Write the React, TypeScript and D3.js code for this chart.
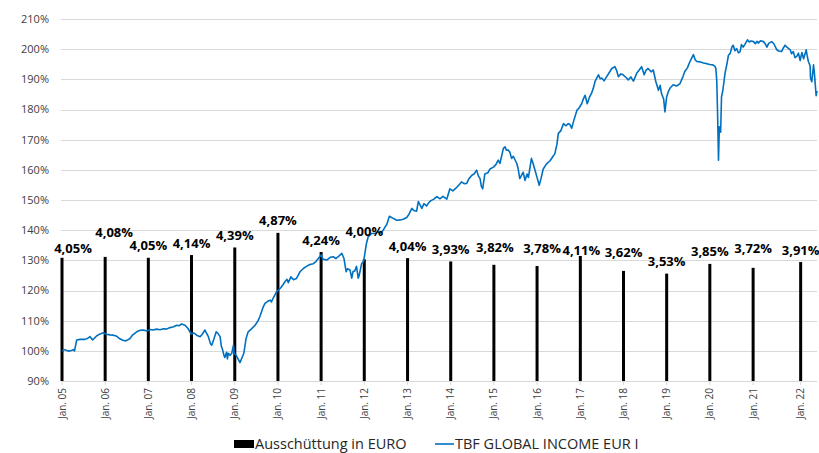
import { useEffect, useRef } from "react";
import * as d3 from "d3";

// Ausschüttungen (Rendite in %) je Stichtag
const payoutDates = [
  "2005-01-01", "2006-01-01", "2007-01-01", "2008-01-01", "2009-01-01", "2010-01-01",
  "2011-01-01", "2012-01-01", "2013-01-01", "2014-01-01", "2015-01-01", "2016-01-01",
  "2017-01-01", "2018-01-01", "2019-01-01", "2020-01-01", "2021-01-01", "2022-02-07",
];
const payoutPct = [
  4.05, 4.08, 4.05, 4.14, 4.39, 4.87, 4.24, 4.0, 4.04, 3.93, 3.82, 3.78, 4.11, 3.62, 3.53, 3.85, 3.72, 3.91,
];
const tickLabels = [
  "Jan. 05", "Jan. 06", "Jan. 07", "Jan. 08", "Jan. 09", "Jan. 10", "Jan. 11", "Jan. 12", "Jan. 13",
  "Jan. 14", "Jan. 15", "Jan. 16", "Jan. 17", "Jan. 18", "Jan. 19", "Jan. 20", "Jan. 21", "Jan. 22",
];

// Wertentwicklung TBF GLOBAL INCOME EUR I (indexiert, %), Zeit als Dezimaljahr
const navTimes = [
  2005.00, 2005.07, 2005.14, 2005.22, 2005.26, 2005.29, 2005.34, 2005.42, 2005.53, 2005.60, 2005.65, 2005.71, 2005.80, 2005.88, 2005.96,
  2006.03, 2006.11, 2006.19, 2006.27, 2006.34, 2006.41, 2006.48, 2006.57, 2006.64, 2006.73, 2006.81, 2006.88, 2006.97,
  2007.04, 2007.11, 2007.19, 2007.27, 2007.35, 2007.42, 2007.50, 2007.57, 2007.66, 2007.71, 2007.77, 2007.85, 2007.92, 2007.99,
  2008.06, 2008.12, 2008.20, 2008.25, 2008.31, 2008.39, 2008.44, 2008.47, 2008.52, 2008.57, 2008.61, 2008.66, 2008.69, 2008.72, 2008.75, 2008.77, 2008.81, 2008.83, 2008.85, 2008.89, 2008.93, 2008.97, 2008.99,
  2009.03, 2009.07, 2009.12, 2009.17, 2009.21, 2009.26, 2009.31, 2009.38, 2009.47, 2009.54, 2009.58, 2009.66, 2009.70, 2009.77, 2009.82, 2009.85, 2009.89, 2009.97,
  2010.01, 2010.07, 2010.12, 2010.16, 2010.21, 2010.24, 2010.30, 2010.36, 2010.43, 2010.51, 2010.59, 2010.65, 2010.74, 2010.82, 2010.88, 2010.93,
  2011.00, 2011.04, 2011.13, 2011.21, 2011.28, 2011.34, 2011.41, 2011.48, 2011.53, 2011.58, 2011.61, 2011.67, 2011.71, 2011.74, 2011.78, 2011.82, 2011.86, 2011.88, 2011.94, 2011.97, 2011.99,
  2012.05, 2012.09, 2012.17, 2012.25, 2012.32, 2012.36, 2012.43, 2012.48, 2012.52, 2012.58, 2012.62, 2012.67, 2012.75, 2012.83, 2012.90, 2012.98,
  2013.03, 2013.10, 2013.15, 2013.21, 2013.25, 2013.33, 2013.38, 2013.44, 2013.48, 2013.54, 2013.60, 2013.68, 2013.75, 2013.82, 2013.91, 2013.98,
  2014.05, 2014.14, 2014.19, 2014.25, 2014.31, 2014.37, 2014.42, 2014.49, 2014.54, 2014.60, 2014.64, 2014.68, 2014.71, 2014.74, 2014.79, 2014.86, 2014.91, 2014.99,
  2015.05, 2015.10, 2015.14, 2015.22, 2015.26, 2015.29, 2015.33, 2015.37, 2015.41, 2015.45, 2015.53, 2015.56, 2015.60, 2015.64, 2015.68, 2015.72, 2015.77, 2015.80, 2015.87, 2015.91, 2015.95, 2015.99,
  2016.05, 2016.09, 2016.14, 2016.21, 2016.30, 2016.37, 2016.41, 2016.46, 2016.49, 2016.55, 2016.61, 2016.67, 2016.72, 2016.76, 2016.80, 2016.85, 2016.92, 2016.97,
  2017.03, 2017.07, 2017.11, 2017.16, 2017.21, 2017.26, 2017.31, 2017.34, 2017.42, 2017.46, 2017.50, 2017.55, 2017.61, 2017.66, 2017.73, 2017.80, 2017.84, 2017.88, 2017.94, 2017.99,
  2018.06, 2018.11, 2018.17, 2018.23, 2018.31, 2018.36, 2018.42, 2018.48, 2018.52, 2018.57, 2018.64, 2018.69, 2018.75, 2018.81, 2018.85, 2018.88, 2018.93, 2018.96,
  2019.00, 2019.04, 2019.08, 2019.15, 2019.23, 2019.31, 2019.38, 2019.42, 2019.48, 2019.54, 2019.62, 2019.66, 2019.70, 2019.77, 2019.85, 2019.93,
  2020.00, 2020.07, 2020.12, 2020.14, 2020.16, 2020.18, 2020.20, 2020.22, 2020.25, 2020.27, 2020.30, 2020.35, 2020.40, 2020.43, 2020.47, 2020.51, 2020.54, 2020.58, 2020.62, 2020.66, 2020.70, 2020.73, 2020.77, 2020.81, 2020.87, 2020.91, 2020.95,
  2021.01, 2021.05, 2021.09, 2021.12, 2021.17, 2021.24, 2021.28, 2021.32, 2021.36, 2021.43, 2021.48, 2021.55, 2021.59, 2021.66, 2021.70, 2021.74, 2021.79, 2021.86, 2021.89, 2021.93, 2021.97,
  2022.01, 2022.05, 2022.09, 2022.13, 2022.17, 2022.23, 2022.25, 2022.28, 2022.32, 2022.33, 2022.36, 2022.40, 2022.42, 2022.46, 2022.48,
];
const navValues = [
  100.0, 100.4, 99.9, 100.1, 100.4, 100.0, 103.6, 103.8, 103.8, 104.2, 104.7, 103.6, 104.9, 105.6, 106.0,
  105.5, 105.3, 105.2, 104.8, 104.0, 103.5, 103.3, 104.0, 105.3, 106.3, 106.8, 106.9, 106.6,
  107.1, 106.9, 107.2, 107.0, 107.3, 107.2, 107.7, 107.9, 108.5, 108.3, 108.9, 108.5, 107.4, 105.6,
  105.9, 105.2, 104.7, 105.5, 106.9, 104.7, 102.3, 101.9, 104.0, 106.3, 105.8, 104.7, 101.5, 100.3, 98.5, 97.8, 99.5, 97.3, 99.2, 98.5, 99.2, 101.9, 99.0,
  98.6, 97.5, 96.1, 97.8, 99.2, 104.0, 106.3, 107.2, 108.5, 110.0, 111.3, 114.6, 115.7, 116.5, 116.8, 116.2, 117.5, 119.6,
  120.1, 121.0, 122.0, 122.9, 123.7, 122.6, 124.5, 123.6, 124.0, 126.2, 127.3, 127.9, 128.6, 128.9, 129.6, 130.5,
  131.8, 130.4, 130.1, 131.0, 131.2, 130.6, 131.4, 132.3, 130.6, 126.2, 127.2, 126.8, 124.1, 126.3, 126.5, 128.0, 124.1, 124.9, 129.0, 129.3, 130.1,
  135.6, 137.8, 138.9, 138.9, 139.5, 138.9, 139.8, 141.1, 141.9, 144.6, 144.3, 143.9, 143.3, 143.4, 143.6, 144.2,
  145.2, 147.2, 146.5, 146.3, 149.5, 147.2, 148.8, 148.0, 148.9, 149.8, 150.2, 151.1, 150.4, 151.2, 150.3, 153.7,
  153.0, 154.2, 155.0, 156.0, 155.4, 155.5, 157.0, 158.2, 158.6, 159.9, 158.0, 157.1, 154.5, 153.7, 158.6, 159.0, 160.3, 160.9,
  161.8, 163.2, 162.1, 167.1, 167.6, 166.5, 166.6, 165.8, 163.8, 164.5, 162.1, 160.5, 157.1, 158.2, 159.2, 156.5, 158.6, 157.5, 163.8, 162.0, 160.0, 158.0,
  154.9, 157.0, 160.2, 161.8, 163.0, 164.5, 165.3, 168.5, 172.0, 173.0, 175.3, 174.6, 175.3, 175.0, 173.8, 176.4, 179.7, 180.5,
  181.9, 183.5, 184.7, 181.9, 184.0, 185.4, 187.5, 189.3, 191.5, 190.2, 190.4, 189.5, 190.9, 192.0, 193.6, 194.2, 193.0, 190.9, 191.8, 191.5,
  190.6, 189.8, 190.8, 189.4, 192.1, 193.0, 194.2, 191.5, 193.0, 193.6, 192.5, 193.1, 189.2, 186.4, 188.0, 185.3, 183.5, 179.2,
  184.2, 186.0, 187.1, 188.2, 187.8, 188.6, 191.0, 192.6, 193.8, 195.9, 198.2, 196.5, 195.9, 195.8, 195.4, 195.2,
  194.9, 194.8, 194.3, 193.5, 189.5, 178.0, 163.2, 174.3, 172.5, 184.2, 186.3, 191.9, 195.5, 198.0, 198.6, 200.7, 201.3, 199.5, 200.2, 198.8, 199.2, 201.5, 200.7, 201.6, 203.1, 202.4, 202.7,
  202.5, 201.8, 202.6, 202.0, 202.8, 202.5, 201.8, 200.7, 201.9, 202.5, 201.8, 199.8, 199.4, 199.2, 200.4, 201.3, 200.6, 199.8, 198.5, 199.2, 197.2,
  197.6, 198.7, 196.2, 198.9, 196.8, 199.8, 198.0, 195.9, 194.5, 190.4, 189.2, 194.8, 192.0, 184.6, 186.2,
];

// Label-Verschiebungen (wie im Original manuell versetzt)
const labelNudge: Record<number, [number, number]> = {
  0: [11, 3], 1: [9, -12], 7: [0, -16], 10: [1, -5], 11: [5, -6], 12: [1, 6], 13: [0, -6], 16: [0, -7],
};

const decimalToDate = (t: number) => {
  const y = Math.floor(t);
  const a = new Date(y, 0, 1).getTime();
  const b = new Date(y + 1, 0, 1).getTime();
  return new Date(a + (t - y) * (b - a));
};

const W = 819;
const H = 453;
const font = "'Segoe UI', 'Open Sans', 'Noto Sans', sans-serif";

export default function App() {
  const svgRef = useRef<SVGSVGElement>(null);

  useEffect(() => {
    const svg = d3.select(svgRef.current);
    svg.selectAll("*").remove();

    const parse = d3.timeParse("%Y-%m-%d");
    const payouts = payoutDates.map((d, i) => ({ date: parse(d) as Date, pct: payoutPct[i], label: tickLabels[i] }));
    const nav = navTimes.map((t, i) => ({ date: decimalToDate(t), value: navValues[i] }));

    const x = d3.scaleTime()
      .domain([new Date(2005, 0, 1), decimalToDate(2022.48)])
      .range([62, 817]);
    const y = d3.scaleLinear().domain([90, 210]).range([381, 19]);
    const yBar = d3.scaleLinear().domain([0, 11.9]).range([381, 19]);

    // gridlines + y labels
    const yTicks = d3.range(90, 211, 10);
    svg.append("g").selectAll("line").data(yTicks).join("line")
      .attr("x1", 61).attr("x2", 817)
      .attr("y1", (d) => Math.round(y(d)) + 0.5).attr("y2", (d) => Math.round(y(d)) + 0.5)
      .attr("stroke", "#d9d9d9").attr("stroke-width", 1);

    svg.append("g").selectAll("text").data(yTicks).join("text")
      .attr("x", 49).attr("y", (d) => y(d))
      .attr("dy", "0.35em")
      .attr("text-anchor", "end")
      .attr("font-family", font).attr("font-size", 11).attr("fill", "#404040")
      .text((d) => `${d}%`);

    // x ticks + labels
    const xg = svg.append("g");
    xg.selectAll("line").data(payouts).join("line")
      .attr("x1", (d) => x(d.date)).attr("x2", (d) => x(d.date))
      .attr("y1", 381).attr("y2", 385)
      .attr("stroke", "#d9d9d9");
    xg.selectAll("text").data(payouts).join("text")
      .attr("transform", (d) => `translate(${x(d.date) + 3.5},388) rotate(-90)`)
      .attr("text-anchor", "end")
      .attr("font-family", font).attr("font-size", 10).attr("fill", "#404040")
      .text((d) => d.label);

    // bars
    svg.append("g").selectAll("rect").data(payouts).join("rect")
      .attr("x", (d) => x(d.date) - 1.5)
      .attr("width", 3)
      .attr("y", (d) => yBar(d.pct))
      .attr("height", (d) => 381 - yBar(d.pct))
      .attr("fill", "#000");

    // line
    const line = d3.line<{ date: Date; value: number }>()
      .x((d) => x(d.date))
      .y((d) => y(d.value));
    svg.append("path").datum(nav)
      .attr("d", line)
      .attr("fill", "none")
      .attr("stroke", "#0070c0")
      .attr("stroke-width", 1.6)
      .attr("stroke-linejoin", "round");

    // bar labels
    svg.append("g").selectAll("text").data(payouts).join("text")
      .attr("x", (d, i) => x(d.date) + (labelNudge[i] ? labelNudge[i][0] : 0))
      .attr("y", (d, i) => yBar(d.pct) - 12 + (labelNudge[i] ? labelNudge[i][1] : 0))
      .attr("dy", "0.35em")
      .attr("text-anchor", "middle")
      .attr("font-family", font).attr("font-size", 13).attr("font-weight", "bold").attr("fill", "#000")
      .text((d) => d.pct.toFixed(2).replace(".", ",") + "%");

    // legend
    const lg = svg.append("g").attr("font-family", font).attr("font-size", 14.5).attr("fill", "#262626");
    lg.append("rect").attr("x", 234).attr("y", 440).attr("width", 20).attr("height", 8).attr("fill", "#000");
    lg.append("text").attr("x", 255).attr("y", 449).text("Ausschüttung in EURO");
    lg.append("line").attr("x1", 435).attr("x2", 454).attr("y1", 444).attr("y2", 444)
      .attr("stroke", "#0070c0").attr("stroke-width", 1.6);
    lg.append("text").attr("x", 455).attr("y", 449).text("TBF GLOBAL INCOME EUR I");
  }, []);

  return (
    <svg
      ref={svgRef}
      width={W}
      height={H}
      style={{ position: "absolute", left: 0, top: 0, background: "#fff" }}
    />
  );
}
